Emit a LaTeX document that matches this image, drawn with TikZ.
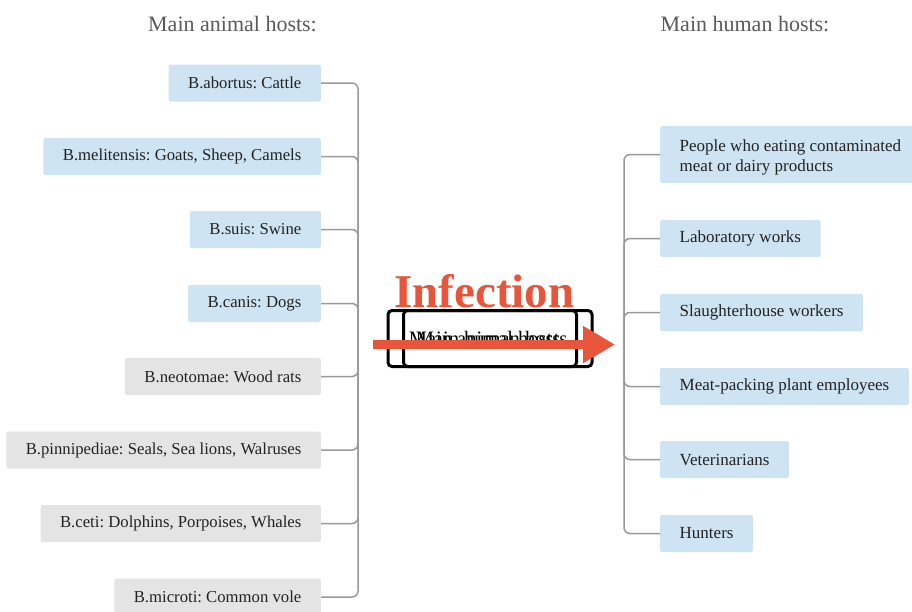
\documentclass[tikz,border=0pt]{standalone}
\usepackage{fontspec}
\setmainfont{Liberation Serif}
\usetikzlibrary{arrows.meta}
\frenchspacing
\definecolor{hostblue}{HTML}{CFE4F3}
\definecolor{hostgray}{HTML}{E4E4E4}
\definecolor{conngray}{HTML}{9A9A9A}
\definecolor{infred}{HTML}{E8553A}
\definecolor{titlegray}{HTML}{5A5A5A}
\definecolor{boxtext}{HTML}{222222}
\tikzset{
  hostbox/.style={rectangle, rounded corners=2pt, minimum height=37pt, inner xsep=19.5pt, inner ysep=0pt, text=boxtext, font=\fontsize{17}{20}\selectfont\frenchspacing},
  animal/.style={hostbox, fill=hostblue, anchor=east, font=\fontsize{16.7}{20}\selectfont\frenchspacing},
  animalg/.style={animal, fill=hostgray},
  human/.style={hostbox, fill=hostblue, anchor=west},
  conn/.style={draw=conngray, line width=1.5pt, rounded corners=6pt},
  title/.style={text=titlegray, font=\fontsize{22}{26}\selectfont, anchor=base},
  centerbox/.style={draw=black, line width=3pt, rounded corners=4pt, minimum height=56pt, inner sep=0pt, font=\fontsize{20.5}{24}\selectfont}
}
\begin{document}
\begin{tikzpicture}[x=1pt,y=-1pt]
\useasboundingbox (0,0) rectangle (912,611);
% titles
\node[title] (t1) at (232.5,31) {Main animal hosts:};
\node[title] (t2) at (745,31) {Main human hosts:};
% animal hosts
\node[animal] (a1) at (321,83) {B.abortus: Cattle};
\node[animal] (a2) at (321,156.5) {B.melitensis: Goats, Sheep, Camels};
\node[animal] (a3) at (321,229.5) {B.suis: Swine};
\node[animal] (a4) at (321,303.5) {B.canis: Dogs};
\node[animalg] (a5) at (321,376.5) {B.neotomae: Wood rats};
\node[animalg] (a6) at (321,450) {B.pinnipediae: Seals, Sea lions, Walruses};
\node[animalg] (a7) at (321,523.5) {B.ceti: Dolphins, Porpoises, Whales};
\node[animalg] (a8) at (321,597) {B.microti: Common vole};
% human hosts
\node[human, minimum height=57pt, align=left] (h1) at (660,154.5) {\rule{0pt}{18pt}People who eating contaminated\\meat or dairy products};
\node[human] (h2) at (660,238.5) {Laboratory works};
\node[human] (h3) at (660,312.5) {Slaughterhouse workers};
\node[human] (h4) at (660,386.5) {Meat-packing plant employees};
\node[human] (h5) at (660,459.5) {Veterinarians};
\node[human] (h6) at (660,533.5) {Hunters};
% connectors
\coordinate (lc) at (358,340);
\coordinate (rc) at (624,349);
\foreach \n in {a1,a2,a3,a4,a5,a6,a7,a8} \draw[conn] (\n.east) -| (lc);
\foreach \n in {h1,h2,h3,h4,h5,h6} \draw[conn] (rc) |- (\n.west);
% center boxes
\node[centerbox, minimum width=204pt] (animalbox) at (490,338.5) {Main animal hosts\kern11pt};
\node[centerbox, minimum width=173pt] (humanbox) at (490,338.5) {\kern3pt Main human hosts};
% infection label and arrow
\node[text=infred, font=\fontsize{47}{50}\selectfont\bfseries, anchor=base, inner sep=0pt] (inf) at (484.5,307) {Infection};
\coordinate (arrS) at (373,344.5);
\coordinate (arrE) at (615,344.5);
\draw[infred, line width=9pt, -{Triangle[length=32pt,width=35pt]}] (arrS) -- (arrE);
\end{tikzpicture}
\end{document}
